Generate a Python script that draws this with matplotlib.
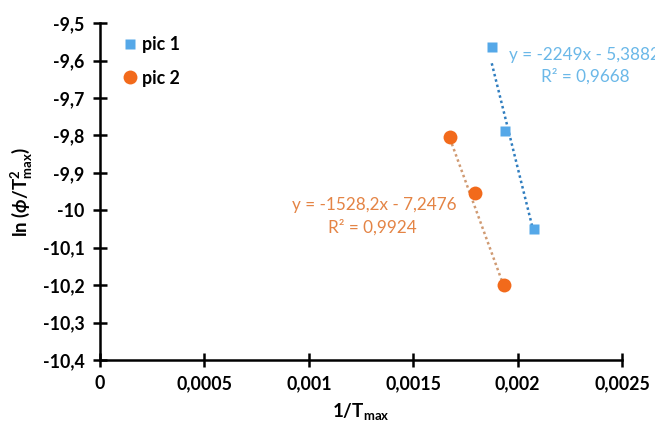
import matplotlib
matplotlib.use("Agg")
import matplotlib.pyplot as plt
import numpy as np

# pic 1 (squares) and pic 2 (circles): 1/Tmax vs ln(phi/Tmax^2)
pic1_x = [0.001876, 0.001939, 0.002078]
pic1_y = [-9.564, -9.789, -10.051]
pic2_x = [0.001676, 0.001795, 0.001934]
pic2_y = [-9.804, -9.955, -10.200]

# trendline coefficients as printed on the chart
pic1_slope, pic1_icpt, pic1_r2 = -2249.0, -5.3882, 0.9668
pic2_slope, pic2_icpt, pic2_r2 = -1528.2, -7.2476, 0.9924

x_ticks = [0, 0.0005, 0.001, 0.0015, 0.002, 0.0025]
x_tick_labels = ["0", "0,0005", "0,001", "0,0015", "0,002", "0,0025"]
y_ticks = [-10.4, -10.3, -10.2, -10.1, -10.0, -9.9, -9.8, -9.7, -9.6, -9.5]
y_tick_labels = ["-10,4", "-10,3", "-10,2", "-10,1", "-10", "-9,9", "-9,8", "-9,7", "-9,6", "-9,5"]

BLUE = "#55A8E8"
BLUE_TXT = "#6BB8E8"
BLUE_LINE = "#2F7DBF"
ORANGE = "#F26A1B"
ORANGE_TXT = "#E48445"
ORANGE_LINE = "#D09A72"

plt.rcParams["font.family"] = ["Lato", "DejaVu Sans"]
plt.rcParams["mathtext.fontset"] = "custom"
plt.rcParams["mathtext.rm"] = "Lato:bold"
plt.rcParams["mathtext.it"] = "Lato:bold:italic"
plt.rcParams["mathtext.bf"] = "Lato:bold"

fig = plt.figure(figsize=(6.55, 4.28), dpi=100)
ax = fig.add_axes([0.1527, 0.159, 0.797, 0.787])


def fmt_eq(slope, icpt):
    s = f"{slope:g}".replace(".", ",")
    i = f"{abs(icpt):.4f}".replace(".", ",")
    return f"y = {s}x - {i}"


# trendlines over the data range (Excel-style dotted)
for xs, slope, icpt, col in [
    (pic1_x, pic1_slope, pic1_icpt, BLUE_LINE),
    (pic2_x, pic2_slope, pic2_icpt, ORANGE_LINE),
]:
    xl = np.array([min(xs), max(xs)])
    ax.plot(xl, slope * xl + icpt, linestyle=(0, (1, 1.2)), color=col, lw=1.8, zorder=2)

ax.plot(pic1_x, pic1_y, "s", color=BLUE, ms=7, mec="none", label="pic 1", zorder=3)
ax.plot(pic2_x, pic2_y, "o", color=ORANGE, ms=10, mec="none", label="pic 2", zorder=3)

# the first equation runs off the right edge, as in the original
ax.text(0.783, 0.905, fmt_eq(pic1_slope, pic1_icpt), transform=ax.transAxes,
        color=BLUE_TXT, fontsize=12.3, ha="left", va="center")
ax.text(0.929, 0.842, f"R² = {pic1_r2:.4f}".replace(".", ","), transform=ax.transAxes,
        color=BLUE_TXT, fontsize=12.3, ha="center", va="center")
ax.text(0.526, 0.46, fmt_eq(pic2_slope, pic2_icpt), transform=ax.transAxes,
        color=ORANGE_TXT, fontsize=12.3, ha="center", va="center")
ax.text(0.522, 0.392, f"R² = {pic2_r2:.4f}".replace(".", ","), transform=ax.transAxes,
        color=ORANGE_TXT, fontsize=12.3, ha="center", va="center")

ax.set_xlim(0, 0.0025)
ax.set_ylim(-10.4, -9.5)
ax.set_xticks(x_ticks)
ax.set_xticklabels(x_tick_labels)
ax.set_yticks(y_ticks)
ax.set_yticklabels(y_tick_labels)
for lab in ax.get_xticklabels() + ax.get_yticklabels():
    lab.set_fontweight("bold")
    lab.set_fontsize(12.8)

ax.spines["top"].set_visible(False)
ax.spines["right"].set_visible(False)
for sp in ("left", "bottom"):
    ax.spines[sp].set_linewidth(1.8)
ax.tick_params(direction="inout", length=10, width=1.8, pad=6)

ax.set_xlabel(r"1/T$_{\mathrm{max}}$", fontsize=13.5, fontweight="bold", labelpad=6)
ax.set_ylabel(r"ln ($\phi$/T$^{2}_{\mathrm{max}}$)", fontsize=13.5, fontweight="bold", labelpad=6)

ax.legend(loc="upper left", bbox_to_anchor=(0.01, 1.01), frameon=False,
          handletextpad=0.15, labelspacing=0.95, handlelength=1.0,
          prop={"weight": "bold", "size": 12.8})

fig.savefig("out.png", dpi=100)
